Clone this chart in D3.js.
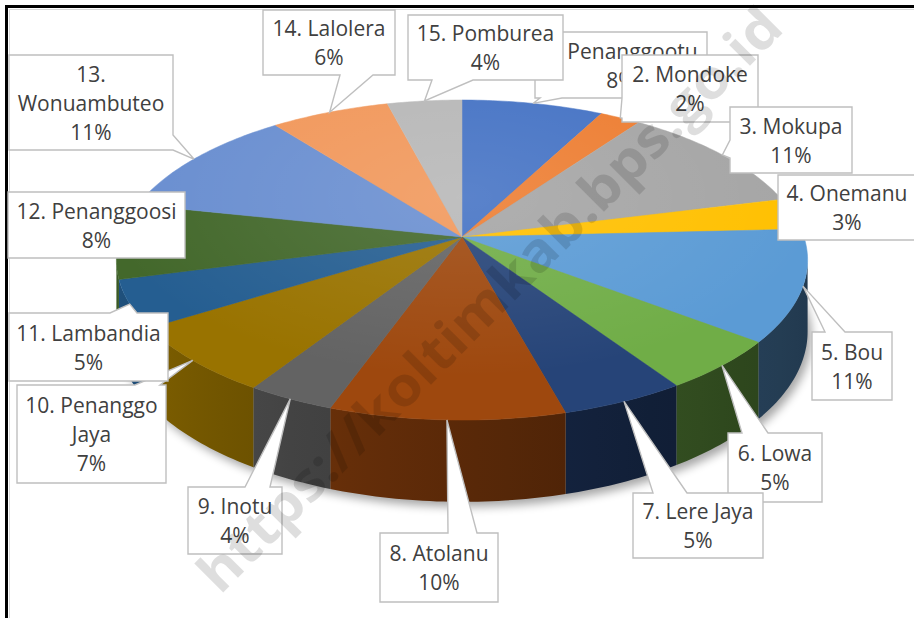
<!DOCTYPE html>
<html><head><meta charset="utf-8">
<script src="https://cdn.jsdelivr.net/npm/d3@7"></script>
<style>body{margin:0;background:#fff}svg{display:block}</style>
</head><body>
<svg id="chart" width="914" height="618"></svg>
<script>
// ---- data ----
const categories = ["1. Penanggootu","2. Mondoke","3. Mokupa","4. Onemanu","5. Bou","6. Lowa","7. Lere Jaya","8. Atolanu","9. Inotu","10. Penanggo Jaya","11. Lambandia","12. Penanggoosi","13. Wonuambuteo","14. Lalolera","15. Pomburea"];
const values = [7.6, 2.2, 11.2, 3.2, 11.3, 5.2, 5.1, 9.6, 3.6, 7.0, 4.8, 7.6, 11.2, 6.4, 4.0];
const colors = ["#4472C4","#ED7D31","#A5A5A5","#FFC000","#5B9BD5","#70AD47","#264478","#9E480E","#636363","#997300","#255E91","#43682B","#698ED0","#F1975A","#B7B7B7"];
const watermark = "https://koltimkab.bps.go.id";

// ---- label box layout (positions only) ----
const layout = [
 {x:535,y:32,w:172,h:66,side:"bottom",base:[540,562]},
 {x:622,y:55,w:136,h:67,side:"left",base:[98,118]},
 {x:730,y:107,w:122,h:66,side:"left",base:[140,158]},
 {x:778,y:175,w:138,h:65,side:null},
 {x:812,y:332,w:80,h:68,side:"top",base:[825,845]},
 {x:728,y:433,w:94,h:69,side:"top",base:[742,768]},
 {x:633,y:493,w:130,h:65,side:"top",base:[653,687]},
 {x:380,y:533,w:118,h:69,side:"top",base:[448,477]},
 {x:188,y:487,w:94,h:67,side:"top",base:[245,270]},
 {x:17,y:385,w:149,h:98,side:"top",base:[135,160]},
 {x:9,y:313,w:159,h:68,side:"top",base:[110,137]},
 {x:8,y:192,w:177,h:66,side:null},
 {x:9,y:55,w:164,h:95,side:"right",base:[135,150]},
 {x:263,y:10,w:132,h:65,side:"bottom",base:[340,373]},
 {x:408,y:15,w:155,h:65,side:"bottom",base:[432,473]}
];

const svg = d3.select("#chart");
const defs = svg.append("defs");

// frame
svg.append("rect").attr("width",914).attr("height",618).attr("fill","#fff");
svg.append("path").attr("d","M6.5,618V6.5H914").attr("fill","none").attr("stroke","#000").attr("stroke-width",3);
svg.append("path").attr("d","M9.5,618V9.5H914").attr("fill","none").attr("stroke","#d9d9d9").attr("stroke-width",1);

// ---- projection (tilted pie with perspective) ----
const cx = 462, cy = 237, rx = 342, ry = 156.7, k = 0.144, depth = 70;
function proj(t, r = 1) {
  const u = r * Math.sin(t), v = -r * Math.cos(t), den = 1 - k * v;
  return [cx + rx * u / den, cy + ry * v / den];
}
function projBottom(t) {
  const v = -Math.cos(t), den = 1 - k * v;
  const p = proj(t);
  return [p[0], p[1] + depth / den];
}
function arcPts(a0, a1, f) {
  const n = Math.max(2, Math.ceil(Math.abs(a1 - a0) / (Math.PI / 180)));
  return d3.range(n + 1).map(i => f(a0 + (a1 - a0) * i / n));
}
const line = d3.line();

const arcs = d3.pie().sort(null).value(d => d)(values);
const total = d3.sum(values);
const pct = d3.format(".0%");

// shadow
const sh = defs.append("filter").attr("id","sh").attr("x","-20%").attr("y","-20%").attr("width","140%").attr("height","140%");
sh.append("feGaussianBlur").attr("stdDeviation",5);
svg.append("path")
  .attr("d", line(arcPts(0, 2*Math.PI, t => { const p = projBottom(t); return [p[0]+4, p[1]+5]; })) + "Z")
  .attr("fill","#000").attr("opacity",0.35).attr("filter","url(#sh)");

// walls
const tS = Math.acos(-k), tE = 2*Math.PI - tS;
function shade(c, t) { return d3.color(c).darker(1.6 + 1.2 * Math.sin(t)).formatHex(); }
const gWalls = svg.append("g");
arcs.forEach((a, i) => {
  const a0 = Math.max(a.startAngle, tS), a1 = Math.min(a.endAngle, tE);
  if (a1 <= a0) return;
  const top = arcPts(a0, a1, proj), bot = arcPts(a0, a1, projBottom).reverse();
  const gid = "wg" + i;
  const x0 = proj(a0)[0], x1 = proj(a1)[0];
  const lg = defs.append("linearGradient").attr("id", gid).attr("gradientUnits","userSpaceOnUse")
    .attr("x1", x0).attr("y1", 0).attr("x2", x1).attr("y2", 0);
  d3.range(5).forEach(j => {
    const t = a0 + (a1 - a0) * j / 4;
    const off = Math.abs(x1 - x0) < 1e-6 ? 0 : (proj(t)[0] - x0) / (x1 - x0);
    lg.append("stop").attr("offset", Math.max(0, Math.min(1, off))).attr("stop-color", shade(colors[i], t));
  });
  gWalls.append("path").attr("d", line(top.concat(bot)) + "Z").attr("fill", `url(#${gid})`);
});

// top faces
const gTop = svg.append("g");
arcs.forEach((a, i) => {
  const pts = [[cx, cy]].concat(arcPts(a.startAngle, a.endAngle, proj));
  gTop.append("path").attr("d", line(pts) + "Z").attr("fill", colors[i])
    .attr("stroke", colors[i]).attr("stroke-width", 0.5);
});
// subtle lighting
const rg = defs.append("radialGradient").attr("id","light").attr("gradientUnits","userSpaceOnUse")
  .attr("cx",cx).attr("cy",cy-40).attr("r",360).attr("gradientTransform",`translate(${cx},${cy-40}) scale(1,0.5) translate(${-cx},${-(cy-40)})`);
rg.append("stop").attr("offset",0).attr("stop-color","#fff").attr("stop-opacity",0.12);
rg.append("stop").attr("offset",1).attr("stop-color","#fff").attr("stop-opacity",0);
gTop.append("path").attr("d", line(arcPts(0, 2*Math.PI, proj)) + "Z").attr("fill","url(#light)");

// labels
function callout(b, tip) {
  const x = b.x, y = b.y, x2 = b.x + b.w, y2 = b.y + b.h, s = b.side, bs = b.base;
  const p = [[x, y]];
  if (s === "top") p.push([bs[0], y], tip, [bs[1], y]);
  p.push([x2, y]);
  if (s === "right") p.push([x2, bs[0]], tip, [x2, bs[1]]);
  p.push([x2, y2]);
  if (s === "bottom") p.push([bs[1], y2], tip, [bs[0], y2]);
  p.push([x, y2]);
  if (s === "left") p.push([x, bs[1]], tip, [x, bs[0]]);
  return line(p) + "Z";
}
const gLab = svg.append("g").attr("font-family","'Open Sans', sans-serif").attr("font-size",21).attr("fill","#404040");
arcs.forEach((a, i) => {
  const b = layout[i];
  const tip = proj((a.startAngle + a.endAngle) / 2);
  const g = gLab.append("g");
  g.append("path").attr("d", callout(b, tip)).attr("fill","#fff").attr("stroke","#bfbfbf").attr("stroke-width",1.4);
  const words = categories[i].split(" ");
  const meas = g.append("text").attr("opacity",0);
  const lines = [];
  let cur = "";
  words.forEach(w => {
    const test = cur ? cur + " " + w : w;
    meas.text(test);
    if (cur && meas.node().getComputedTextLength() > b.w - 8) { lines.push(cur); cur = w; }
    else cur = test;
  });
  lines.push(cur);
  meas.remove();
  lines.push(pct(values[i] / total));
  const mid = b.y + b.h / 2, lh = 29;
  lines.forEach((t, j) => {
    g.append("text").attr("x", b.x + b.w / 2).attr("y", mid + (j - (lines.length - 1) / 2) * lh)
      .attr("text-anchor","middle").attr("dominant-baseline","central").text(t);
  });
});

// watermark
svg.append("text").attr("transform","translate(488,298) rotate(-45)")
  .attr("text-anchor","middle").attr("dominant-baseline","central")
  .attr("font-family","'Open Sans', sans-serif").attr("font-weight","bold").attr("font-size",54)
  .attr("fill","#000").attr("fill-opacity",0.13)
  .attr("textLength",800).attr("lengthAdjust","spacingAndGlyphs")
  .text(watermark);
</script>
</body></html>
